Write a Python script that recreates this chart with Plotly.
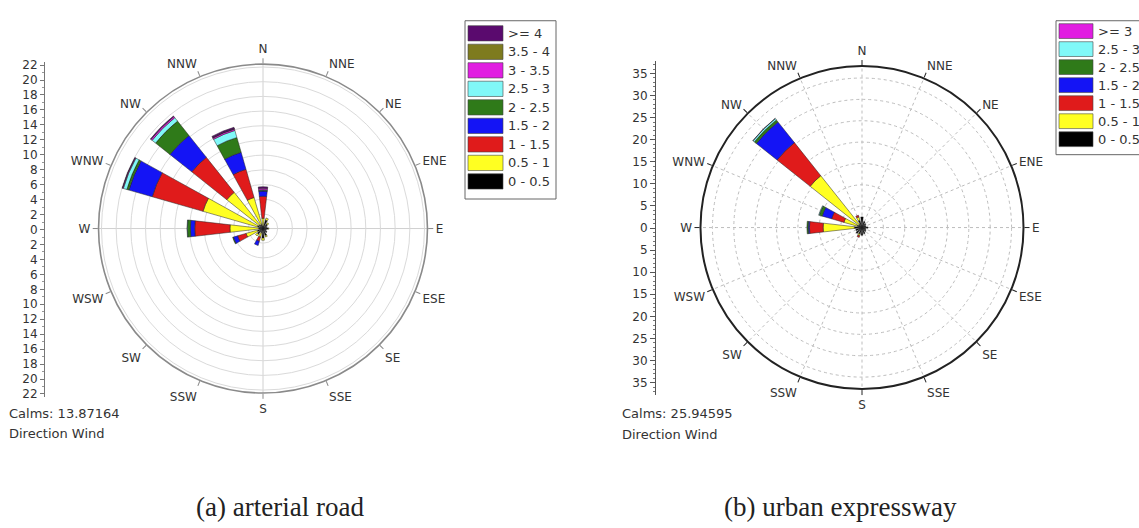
import plotly.graph_objects as go

# ---------------- data ----------------
directions = ["N", "NNE", "NE", "ENE", "E", "ESE", "SE", "SSE",
              "S", "SSW", "SW", "WSW", "W", "WNW", "NW", "NNW"]
angles = [i * 22.5 for i in range(16)]

# (a) arterial road: frequency (%) per speed bin, per direction
bins_a = ["0 - 0.5", "0.5 - 1", "1 - 1.5", "1.5 - 2", "2 - 2.5",
          "2.5 - 3", "3 - 3.5", "3.5 - 4", ">= 4"]
a_0_05 = [0.4, 1.2, 0.8, 0.6, 0.7, 0.5, 0.7, 1.0, 1.3, 0.6, 1.0, 0.8, 0.6, 0.8, 0.7, 0.6]
a_05_1 = [1.0, 0.3, 0.2, 0.0, 0.1, 0.0, 0.0, 0.2, 0.3, 0.6, 0.3, 1.6, 3.9, 7.7, 5.6, 3.8]
a_1_15 = [3.0, 0, 0, 0, 0, 0, 0, 0, 0, 0.6, 0, 1.2, 4.8, 7.2, 6.1, 4.0]
a_15_2 = [0.7, 0, 0, 0, 0, 0, 0, 0, 0, 0.6, 0, 0.6, 0.6, 3.3, 3.8, 2.4]
a_2_25 = [0.1, 0, 0, 0, 0, 0, 0, 0, 0, 0, 0, 0.1, 0.4, 0.3, 2.5, 2.1]
a_25_3 = [0.1, 0, 0, 0, 0, 0, 0, 0, 0, 0, 0, 0, 0.05, 0.5, 0.6, 1.0]
a_3_35 = [0.2, 0, 0, 0, 0, 0, 0, 0, 0, 0, 0, 0, 0, 0.1, 0.2, 0.2]
a_35_4 = [0, 0, 0, 0, 0, 0, 0, 0, 0, 0, 0, 0, 0, 0, 0, 0.05]
a_ge_4 = [0.2, 0, 0, 0, 0, 0, 0, 0, 0, 0, 0, 0, 0, 0.05, 0.1, 0.2]
series_a = [a_0_05, a_05_1, a_1_15, a_15_2, a_2_25, a_25_3, a_3_35, a_35_4, a_ge_4]
calms_a = "13.87164"

# (b) urban expressway
bins_b = ["0 - 0.5", "0.5 - 1", "1 - 1.5", "1.5 - 2", "2 - 2.5", "2.5 - 3", ">= 3"]
b_0_05 = [2.5, 1.5, 1.2, 1.0, 1.4, 1.0, 1.2, 1.5, 1.8, 1.6, 1.8, 1.5, 1.8, 1.2, 1.0, 1.8]
b_05_1 = [0, 0, 0, 0, 0, 0, 0, 0, 0, 0.4, 0, 0, 7.3, 3.2, 14.5, 0.8]
b_1_15 = [0, 0, 0, 0, 0, 0, 0, 0, 0, 0.4, 0, 0, 3.2, 3.0, 9.9, 0.4]
b_15_2 = [0, 0, 0, 0, 0, 0, 0, 0, 0, 0, 0, 0, 0.3, 2.3, 6.2, 0]
b_2_25 = [0, 0, 0, 0, 0, 0, 0, 0, 0, 0, 0, 0, 0.3, 0.7, 0.6, 0]
b_25_3 = [0, 0, 0, 0, 0, 0, 0, 0, 0, 0, 0, 0, 0, 0.15, 0.4, 0]
b_ge_3 = [0, 0, 0, 0, 0, 0, 0, 0, 0, 0, 0, 0, 0, 0, 0.05, 0]
series_b = [b_0_05, b_05_1, b_1_15, b_15_2, b_2_25, b_25_3, b_ge_3]
calms_b = "25.94595"

ticks_a = list(range(-22, 23, 2))
ticks_b = list(range(-35, 36, 5))

# ---------------- styles ----------------
colors_a = ["#000000", "#FFFF22", "#E01B1B", "#1414F5", "#2F7A19",
            "#80F8F8", "#E11DE1", "#7E7B1E", "#5A0A6E"]
colors_b = colors_a[:6] + ["#E11DE1"]

W, H = 1139, 528
def px(x): return x / W
def py(y): return 1 - y / H

FONT = "DejaVu Sans"
TXT = "#333333"
BAR_W = 13

fig = go.Figure()

for name, vals, col in zip(bins_a, series_a, colors_a):
    fig.add_trace(go.Barpolar(r=vals, theta=angles, width=BAR_W, name=name,
                              marker=dict(color=col, line=dict(color="#222222", width=0.5)),
                              subplot="polar", showlegend=False, hoverinfo="skip"))
for name, vals, col in zip(bins_b, series_b, colors_b):
    fig.add_trace(go.Barpolar(r=vals, theta=angles, width=BAR_W, name=name,
                              marker=dict(color=col, line=dict(color="#222222", width=0.5)),
                              subplot="polar2", showlegend=False, hoverinfo="skip"))

# invisible traces so the linear scale axes exist
fig.add_trace(go.Scatter(x=[0], y=[0], mode="markers", marker=dict(opacity=0),
                         xaxis="x", yaxis="y", showlegend=False, hoverinfo="skip"))
fig.add_trace(go.Scatter(x=[0], y=[0], mode="markers", marker=dict(opacity=0),
                         xaxis="x2", yaxis="y2", showlegend=False, hoverinfo="skip"))

# polar geometry (pixels)
cxa, cya, ra = 263, 228, 167
cxb, cyb, rb = 862, 227, 164

def angular(linecolor, linewidth, grid, griddash="solid"):
    return dict(rotation=90, direction="clockwise", tickmode="array",
                tickvals=angles, ticktext=directions,
                tickfont=dict(family=FONT, size=12, color=TXT),
                linecolor=linecolor, linewidth=linewidth, showline=True,
                ticks="outside", ticklen=5, tickcolor=linecolor,
                showgrid=grid, gridcolor="#bdbdbd", griddash=griddash, gridwidth=1)

fig.update_layout(
    width=W, height=H, margin=dict(l=0, r=0, t=0, b=0),
    paper_bgcolor="white", plot_bgcolor="rgba(0,0,0,0)",
    polar=dict(domain=dict(x=[px(cxa - ra), px(cxa + ra)], y=[py(cya + ra), py(cya - ra)]),
               bgcolor="rgba(0,0,0,0)", barmode="stack",
               radialaxis=dict(range=[0, 22.4], dtick=2, showticklabels=False, ticks="",
                               showline=False, gridcolor="#dadada", gridwidth=1),
               angularaxis=angular("#8a8a8a", 1.6, False)),
    polar2=dict(domain=dict(x=[px(cxb - rb), px(cxb + rb)], y=[py(cyb + rb), py(cyb - rb)]),
                bgcolor="rgba(0,0,0,0)", barmode="stack",
                radialaxis=dict(range=[0, 37.8], dtick=5, showticklabels=False, ticks="",
                                showline=False, gridcolor="#bdbdbd", griddash="dot", gridwidth=1),
                angularaxis=angular("#222222", 2, True, "dot")),
    xaxis=dict(domain=[px(45), px(46)], visible=False, range=[-1, 1]),
    yaxis=dict(domain=[py(399), py(59)], anchor="x", range=[-22.4, 22.4],
               tickmode="array", tickvals=ticks_a, ticktext=[str(abs(v)) for v in ticks_a],
               ticks="outside", ticklen=4, tickcolor="#777", showline=True, linecolor="#777",
               linewidth=1, showgrid=False, zeroline=False,
               minor=dict(dtick=1, ticklen=2, tickcolor="#999", ticks="outside"),
               tickfont=dict(family=FONT, size=12, color=TXT)),
    xaxis2=dict(domain=[px(656), px(657)], visible=False, range=[-1, 1]),
    yaxis2=dict(domain=[py(397), py(58)], anchor="x2", range=[-37.8, 37.8],
                tickmode="array", tickvals=ticks_b, ticktext=[str(abs(v)) for v in ticks_b],
                ticks="outside", ticklen=5, tickcolor="#555", showline=True, linecolor="#555",
                linewidth=1, showgrid=False, zeroline=False,
                minor=dict(dtick=1, ticklen=2, tickcolor="#777", ticks="outside"),
                tickfont=dict(family=FONT, size=12, color=TXT)),
)

shapes = []
annotations = []

# cross lines for left rose
shapes.append(dict(type="line", xref="paper", yref="paper", layer="below",
                   x0=px(cxa), x1=px(cxa), y0=py(cya - ra), y1=py(cya + ra),
                   line=dict(color="#d0d0d0", width=1)))
shapes.append(dict(type="line", xref="paper", yref="paper", layer="below",
                   x0=px(cxa - ra), x1=px(cxa + ra), y0=py(cya), y1=py(cya),
                   line=dict(color="#d0d0d0", width=1)))

def legend(x0, y0, x1, y1, first_top, step, rect_h, rect_x0, rect_x1, names, cols):
    shapes.append(dict(type="rect", xref="paper", yref="paper",
                       x0=px(x0), x1=px(x1), y0=py(y1), y1=py(y0),
                       line=dict(color="#666", width=1), fillcolor="white"))
    for i, (n, c) in enumerate(zip(reversed(names), reversed(cols))):
        t = first_top + i * step
        shapes.append(dict(type="rect", xref="paper", yref="paper",
                           x0=px(rect_x0), x1=px(rect_x1), y0=py(t + rect_h), y1=py(t),
                           line=dict(color="#444", width=0.6), fillcolor=c))
        annotations.append(dict(xref="paper", yref="paper", x=px(rect_x1 + 3), y=py(t + rect_h / 2),
                                text=n, showarrow=False, xanchor="left", yanchor="middle",
                                font=dict(family=FONT, size=13, color=TXT)))

legend(465, 17, 556, 198, 22, 18.8, 15.5, 468, 503, bins_a, colors_a)
legend(1056, 17, 1150, 153, 20, 18.3, 15, 1059, 1093, bins_b, colors_b)

def text(x, y, s, size=13, family=FONT, anchor="left", color=TXT):
    annotations.append(dict(xref="paper", yref="paper", x=px(x), y=py(y), text=s,
                            showarrow=False, xanchor=anchor, yanchor="middle",
                            font=dict(family=family, size=size, color=color)))

text(7, 416, "Calms: " + calms_a)
text(7, 436, "Direction Wind")
text(620, 416, "Calms: " + calms_b)
text(620, 437, "Direction Wind")
text(280, 511, "(a) arterial road", size=27, family="Liberation Serif", anchor="center", color="#222")
text(840, 511, "(b) urban expressway", size=27, family="Liberation Serif", anchor="center", color="#222")

fig.update_layout(shapes=shapes, annotations=annotations)
fig.write_html("out.html")
